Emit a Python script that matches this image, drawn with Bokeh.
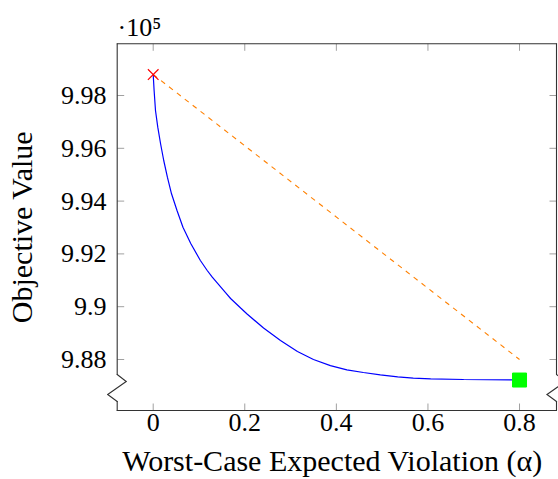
from bokeh.plotting import figure
from bokeh.models import Range1d, FixedTicker, Arrow, ColumnDataSource
from bokeh.embed import file_html
from bokeh.resources import INLINE

# ---------------- data ----------------
SCALE = 1e5
alpha = [0.000, 0.002, 0.005, 0.010, 0.016, 0.023, 0.031, 0.040, 0.052, 0.065,
         0.082, 0.103, 0.118, 0.129, 0.158, 0.169, 0.191, 0.205, 0.241, 0.278,
         0.315, 0.350, 0.387, 0.423, 0.459, 0.496, 0.534, 0.568, 0.606, 0.678,
         0.787, 0.800]
objective = [998795, 998190, 997432, 996799, 996182, 995538, 994905, 994277,
             993644, 993011, 992394, 991750, 991371, 991117, 990530, 990311,
             989951, 989723, 989193, 988720, 988303, 988000, 987770, 987610,
             987508, 987420, 987340, 987295, 987265, 987242, 987225, 987222]

start_x = [0.0]
start_y = [998795]
end_x = [0.8]
end_y = [987222]
chord_x = [0.0, 0.8]
chord_y = [998795, 988000]

xticks = [0.0, 0.2, 0.4, 0.6, 0.8]
xtick_labels = ["0", "0.2", "0.4", "0.6", "0.8"]
yticks = [9.88, 9.90, 9.92, 9.94, 9.96, 9.98]
ytick_labels = ["9.88", "9.9", "9.92", "9.94", "9.96", "9.98"]

x_label = "Worst-Case Expected Violation (\u03b1)"
y_label = "Objective Value"
multiplier = "\u00b710\u2075"

# ---------------- layout ----------------
W, H = 558, 479
FL, FR, FT, FB = 106, 558, 41, 412          # Bokeh frame (a bit larger than the box)
BL, BR, BT, BB = 116.7, 556.0, 43.3, 410.0  # visible axis box
X_ZERO_PX, X_PER_UNIT = 152.7, 457.9
Y_REF, Y_REF_PX, Y_PER_UNIT = 9.88, 359.0, 2640.0
X0 = (FL - X_ZERO_PX) / X_PER_UNIT
X1 = (FR - X_ZERO_PX) / X_PER_UNIT
Y0 = Y_REF - (FB - Y_REF_PX) / Y_PER_UNIT
Y1 = Y_REF + (Y_REF_PX - FT) / Y_PER_UNIT

def xpx(px):
    return X0 + (X1 - X0) * (px - FL) / (FR - FL)

def ypx(py):
    return Y0 + (Y1 - Y0) * (FB - py) / (FB - FT)

FONT = "Liberation Serif"

p = figure(width=W, height=H, x_range=Range1d(X0, X1), y_range=Range1d(Y0, Y1),
           output_backend="svg", toolbar_location=None,
           min_border_left=FL, min_border_right=W - FR,
           min_border_top=FT, min_border_bottom=H - FB)
p.outline_line_color = None
p.xgrid.visible = False
p.ygrid.visible = False
p.background_fill_color = "white"
p.border_fill_color = "white"

p.title.text = multiplier
p.title.align = "left"
p.title.offset = 11
p.title.standoff = 0
p.title.text_font = FONT
p.title.text_font_size = "26px"
p.title.text_font_style = "normal"
p.title.text_color = "black"

TICK_COLOR = "#a0a0a0"
SPINE_COLOR = "#333333"

for ax, ticks, labels, standoff in ((p.xaxis[0], xticks, xtick_labels, 1),
                                    (p.yaxis[0], yticks, ytick_labels, 0)):
    ax.ticker = FixedTicker(ticks=ticks)
    ax.major_label_overrides = {t: l for t, l in zip(ticks, labels)}
    ax.axis_line_color = None
    ax.major_tick_line_color = None
    ax.major_tick_in = 0
    ax.major_tick_out = 0
    ax.minor_tick_in = 0
    ax.minor_tick_out = 0
    ax.major_label_text_font = FONT
    ax.major_label_text_font_size = "26px"
    ax.major_label_text_color = "black"
    ax.major_label_standoff = standoff
    ax.axis_label_text_font = FONT
    ax.axis_label_text_font_size = "30px"
    ax.axis_label_text_font_style = "normal"
    ax.axis_label_text_color = "black"

p.xaxis[0].axis_label = x_label
p.xaxis[0].axis_label_standoff = 10
p.yaxis[0].axis_label = y_label
p.yaxis[0].axis_label_standoff = 20

# ---------------- data marks ----------------
p.line(chord_x, [v / SCALE for v in chord_y], line_color="#ff8000",
       line_width=1.1, line_dash="5 5")
p.line(alpha, [v / SCALE for v in objective], line_color="#0000ff",
       line_width=1.2)
p.scatter(start_x, [v / SCALE for v in start_y], marker="x", size=15,
          line_color="#ff0000", line_width=1.2)
p.scatter(end_x, [v / SCALE for v in end_y], marker="square", size=14,
          fill_color="#00ff00", line_color="#00ff00")

# ---------------- box with y-axis break ----------------
def zig(edge):
    return [(edge, BT), (edge, 374), (edge + 9, 381), (edge - 9.5, 394),
            (edge, 401), (edge, BB)]

segs = {"x0": [], "y0": [], "x1": [], "y1": []}
def add_poly(d, pts):
    for (a, b), (c, e) in zip(pts[:-1], pts[1:]):
        d["x0"].append(xpx(a)); d["y0"].append(ypx(b))
        d["x1"].append(xpx(c)); d["y1"].append(ypx(e))

add_poly(segs, zig(BL))
add_poly(segs, zig(BR))
add_poly(segs, [(BL, BB), (BR, BB)])
add_poly(segs, [(BL, BT), (BR, BT)])

# ticks, pointing inward, on all four sides
TL = 7
tsegs = {"x0": [], "y0": [], "x1": [], "y1": []}
for t in xticks:
    for y_a, y_b in ((ypx(BB), ypx(BB - TL)), (ypx(BT), ypx(BT + TL))):
        tsegs["x0"].append(t); tsegs["y0"].append(y_a)
        tsegs["x1"].append(t); tsegs["y1"].append(y_b)
for t in yticks:
    for x_a, x_b in ((xpx(BL), xpx(BL + TL)), (xpx(BR), xpx(BR - TL))):
        tsegs["x0"].append(x_a); tsegs["y0"].append(t)
        tsegs["x1"].append(x_b); tsegs["y1"].append(t)

p.add_layout(Arrow(end=None, source=ColumnDataSource(tsegs),
                   x_start="x0", y_start="y0", x_end="x1", y_end="y1",
                   line_color=TICK_COLOR, line_width=1))
p.add_layout(Arrow(end=None, source=ColumnDataSource(segs),
                   x_start="x0", y_start="y0", x_end="x1", y_end="y1",
                   line_color=SPINE_COLOR, line_width=1.1, line_cap="round"))

open("out.html", "w").write(file_html(p, INLINE))
